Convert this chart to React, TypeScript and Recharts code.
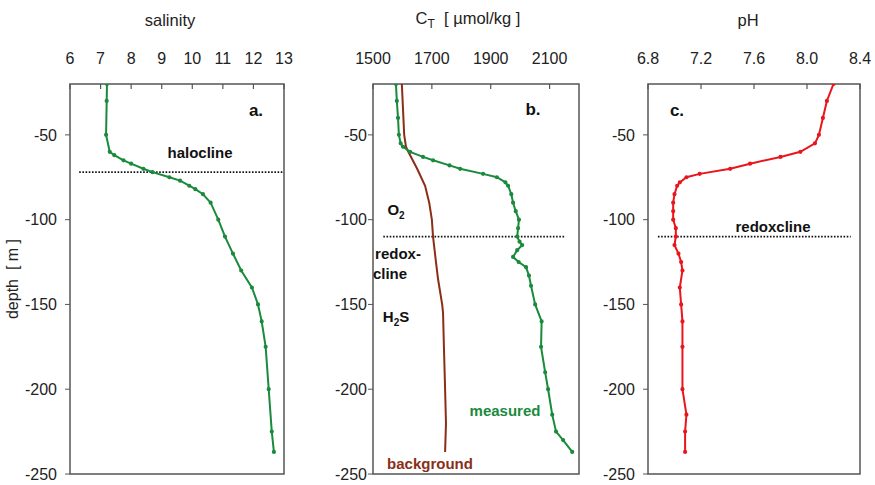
import { LineChart, Line, XAxis, YAxis, ReferenceArea, ReferenceLine } from 'recharts';

// depth profiles
const salDepth = [-20, -30, -50, -60, -62, -65, -67, -70, -72, -75, -77, -80, -82, -85, -90, -100, -110, -120, -130, -140, -150, -160, -175, -200, -225, -237];
const salinity = [7.21, 7.2, 7.18, 7.3, 7.45, 7.75, 8.0, 8.4, 8.7, 9.25, 9.6, 9.9, 10.1, 10.35, 10.6, 10.85, 11.07, 11.33, 11.6, 11.95, 12.15, 12.27, 12.4, 12.5, 12.6, 12.67];

const ctDepth = [-20, -30, -40, -50, -55, -57, -60, -63, -65, -68, -70, -73, -75, -78, -80, -85, -90, -95, -100, -105, -110, -113, -115, -118, -122, -125, -128, -133, -139, -150, -160, -175, -190, -200, -215, -225, -230, -237];
const ctMeasured = [1578, 1581, 1585, 1588, 1594, 1602, 1626, 1670, 1704, 1760, 1796, 1874, 1921, 1950, 1959, 1970, 1976, 1985, 1996, 1993, 1990, 1998, 2007, 1990, 1976, 1995, 2020, 2030, 2037, 2051, 2073, 2071, 2085, 2095, 2109, 2122, 2146, 2177];

const bgDepth = [-20, -50, -57, -60, -70, -80, -90, -100, -110, -125, -135, -150, -155, -175, -200, -220, -237];
const ctBackground = [1598, 1606, 1612, 1620, 1650, 1677, 1691, 1700, 1704, 1714, 1721, 1735, 1738, 1741, 1745, 1748, 1745];

const phDepth = [-20, -30, -40, -50, -55, -60, -63, -67, -70, -73, -75, -78, -80, -85, -90, -95, -100, -105, -110, -115, -120, -125, -130, -140, -150, -160, -175, -200, -215, -225, -237];
const ph = [8.2, 8.15, 8.12, 8.09, 8.06, 7.95, 7.8, 7.57, 7.42, 7.19, 7.09, 7.04, 7.02, 7.0, 6.99, 6.99, 6.99, 7.01, 7.01, 7.0, 7.03, 7.05, 7.06, 7.04, 7.05, 7.06, 7.06, 7.06, 7.09, 7.08, 7.08];

const depthTicks = [-250, -200, -150, -100, -50];
const salTicks = [6, 7, 8, 9, 10, 11, 12, 13];
const ctTicks = [1500, 1700, 1900, 2100];
const phTicks = [6.8, 7.2, 7.6, 8.0, 8.4];

const zip = (d: number[], v: number[]) => d.map((depth, i) => ({ depth, v: v[i] }));

const FONT = 'Liberation Sans, Arial, sans-serif';
const GREEN = '#1a8a3c';
const BROWN = '#8a2e18';
const RED = '#e8161c';
const FRAME = '#555';
const PLOT_TOP = 84;
const H = 485;

const TopTick = (props: any) => {
    const { x, payload, fmt } = props;
    return (
        <g>
            <line x1={x} x2={x} y1={PLOT_TOP} y2={PLOT_TOP + 5} stroke={FRAME} strokeWidth={1.2} />
            <text x={x} y={58} textAnchor="middle" dominantBaseline="central" fontSize={16} fill="#222" fontFamily={FONT}>
                {fmt ? fmt(payload.value) : payload.value}
            </text>
        </g>
    );
};

const Note = ({ x, y, color = '#111', children, size = 15 }: any) => (
    <div style={{
        position: 'absolute', left: x, top: y, transform: 'translate(-50%, -50%)',
        fontFamily: FONT, fontWeight: 'bold', fontSize: size, color, whiteSpace: 'nowrap', lineHeight: 1,
    }}>{children}</div>
);

const Title = ({ x, children }: any) => (
    <div style={{
        position: 'absolute', left: x, top: 20, transform: 'translate(-50%, -50%)',
        fontFamily: FONT, fontSize: 16.5, color: '#222', whiteSpace: 'nowrap', lineHeight: 1,
    }}>{children}</div>
);

function Panel({ width, left, right, domain, ticks, fmt, tickMargin, children }: any) {
    return (
        <LineChart
            layout="vertical"
            width={width}
            height={H}
            margin={{ top: 44, right, bottom: 11, left }}
        >
            <XAxis
                type="number"
                dataKey="v"
                orientation="top"
                domain={domain}
                ticks={ticks}
                height={40}
                axisLine={false}
                tickLine={false}
                allowDataOverflow
                tick={(p: any) => <TopTick {...p} fmt={fmt} />}
            />
            <YAxis
                type="number"
                dataKey="depth"
                domain={[-250, -20]}
                ticks={depthTicks}
                reversed
                width={40}
                axisLine={false}
                tickSize={5}
                tickMargin={tickMargin}
                tickLine={{ stroke: FRAME }}
                tick={{ fontSize: 16, fill: '#222', fontFamily: FONT }}
                allowDataOverflow
            />
            <ReferenceArea x1={domain[0]} x2={domain[1]} y1={-250} y2={-20} fill="none" stroke={FRAME} strokeWidth={1.5} />
            {children}
        </LineChart>
    );
}

export default function App() {
    return (
        <div style={{ position: 'absolute', left: 0, top: 0, width: 875, height: H, background: '#fff' }}>
            <div style={{ position: 'absolute', left: 0, top: 0 }}>
                <Panel width={300} left={30} right={16} domain={[6, 13]} ticks={salTicks} tickMargin={8}>
                    <ReferenceLine segment={[{ x: 6.3, y: -72 }, { x: 12.95, y: -72 }]} stroke="#111" strokeWidth={1.6} strokeDasharray="1.6 1.6" />
                    <Line data={zip(salDepth, salinity)} dataKey="v" type="linear" stroke={GREEN} strokeWidth={2}
                        dot={{ r: 1.1, fill: GREEN, stroke: GREEN }} isAnimationActive={false} />
                </Panel>
            </div>
            <div style={{ position: 'absolute', left: 300, top: 0 }}>
                <Panel width={290} left={33} right={11} domain={[1500, 2200]} ticks={ctTicks} tickMargin={1}>
                    <ReferenceLine segment={[{ x: 1535, y: -110 }, { x: 2155, y: -110 }]} stroke="#111" strokeWidth={1.6} strokeDasharray="1.6 1.6" />
                    <Line data={zip(bgDepth, ctBackground)} dataKey="v" type="linear" stroke={BROWN} strokeWidth={2}
                        dot={false} isAnimationActive={false} />
                    <Line data={zip(ctDepth, ctMeasured)} dataKey="v" type="linear" stroke={GREEN} strokeWidth={2}
                        dot={{ r: 1.1, fill: GREEN, stroke: GREEN }} isAnimationActive={false} />
                </Panel>
            </div>
            <div style={{ position: 'absolute', left: 590, top: 0 }}>
                <Panel width={285} left={18} right={15} domain={[6.8, 8.4]} ticks={phTicks} fmt={(v: number) => v.toFixed(1)} tickMargin={8}>
                    <ReferenceLine segment={[{ x: 6.875, y: -110 }, { x: 8.33, y: -110 }]} stroke="#111" strokeWidth={1.6} strokeDasharray="1.6 1.6" />
                    <Line data={zip(phDepth, ph)} dataKey="v" type="linear" stroke={RED} strokeWidth={2}
                        dot={{ r: 1.1, fill: RED, stroke: RED }} isAnimationActive={false} />
                </Panel>
            </div>

            <Title x={170}>salinity</Title>
            <Title x={468}>C<sub style={{ fontSize: 12 }}>T</sub>&nbsp;&nbsp;[ µmol/kg ]</Title>
            <Title x={748}>pH</Title>

            <div style={{
                position: 'absolute', left: 13, top: 279, transform: 'translate(-50%, -50%) rotate(-90deg)',
                fontFamily: FONT, fontSize: 16, color: '#222', whiteSpace: 'nowrap', lineHeight: 1,
            }}>depth&nbsp;&nbsp;[ m ]</div>

            <Note x={256} y={110} size={17}>a.</Note>
            <Note x={200} y={152}>halocline</Note>

            <Note x={533} y={109} size={17}>b.</Note>
            <Note x={396} y={211}>O<sub style={{ fontSize: 10 }}>2</sub></Note>
            <Note x={398} y={253}>redox-</Note>
            <Note x={390} y={273}>cline</Note>
            <Note x={396} y={318}>H<sub style={{ fontSize: 10 }}>2</sub>S</Note>
            <Note x={505} y={410} color={GREEN}>measured</Note>
            <Note x={430} y={463} color={BROWN}>background</Note>

            <Note x={677} y={110} size={17}>c.</Note>
            <Note x={773} y={226}>redoxcline</Note>
        </div>
    );
}
